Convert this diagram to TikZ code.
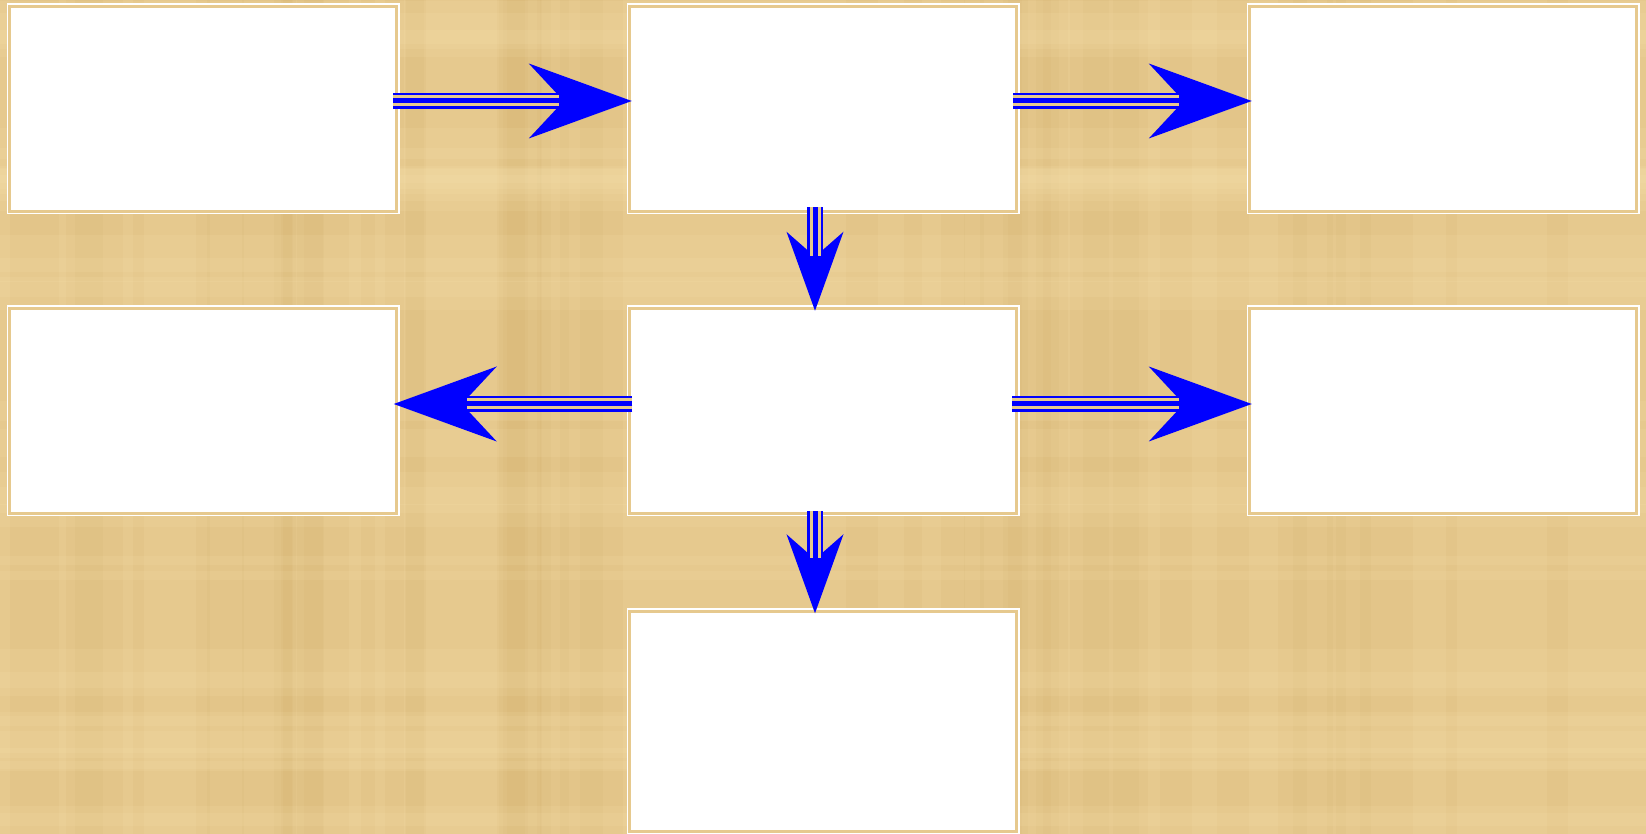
\documentclass[tikz,border=0pt]{standalone}
\usepackage{tikz}
\usetikzlibrary{arrows.meta, positioning, calc}
\definecolor{papyrus}{RGB}{230, 201, 142}
\definecolor{papyrusdark}{RGB}{196, 156, 84}
\definecolor{papyruslight}{RGB}{252, 232, 182}
\definecolor{flowblue}{RGB}{0, 0, 255}
\tikzset{
    panel/.style={rectangle, minimum width=193.5pt, minimum height=102.5pt, inner sep=0pt, draw=white, fill=white, line width=0.75pt, double=papyrus, double distance=1.5pt},
    bigflow/.style={flowblue, line width=8pt, -{Stealth[length=51.5pt, width=37.5pt, inset=17.5pt, line width=0pt]},
        postaction={draw=papyrus, line width=5.5pt, -, shorten >=36.5pt},
        postaction={draw=flowblue, line width=2.5pt, -, shorten >=34pt}},
    smallflow/.style={flowblue, line width=8pt, -{Stealth[length=39.5pt, width=28.5pt, inset=12.5pt, line width=0pt]},
        postaction={draw=papyrus, line width=5.5pt, -, shorten >=27.5pt},
        postaction={draw=flowblue, line width=2.5pt, -, shorten >=26pt}}
}

\begin{document}
\begin{tikzpicture}[x=0.5pt, y=-0.5pt]
        % Papyrus background
        \useasboundingbox (0,0) rectangle (1646,834);
        \fill[papyrus] (0,0) rectangle (1646,834);
        \pgfmathsetseed{11}
        \foreach \i in {1,...,45} {
            \pgfmathsetmacro\bx{rnd*1646}
            \pgfmathsetmacro\bw{8+rnd*50}
            \fill[papyrusdark, opacity=0.07] (\bx,0) rectangle ++(\bw,834);
        }
        \foreach \i in {1,...,30} {
            \pgfmathsetmacro\by{rnd*834}
            \pgfmathsetmacro\bh{8+rnd*40}
            \fill[papyruslight, opacity=0.12] (0,\by) rectangle ++(1646,\bh);
        }

        % Panels
        \node[panel] (p1) at (203, 109) {};
        \node[panel] (p2) at (823, 109) {};
        \node[panel] (p3) at (1443, 109) {};
        \node[panel] (p4) at (203, 411) {};
        \node[panel] (p5) at (823, 411) {};
        \node[panel] (p6) at (1443, 411) {};
        \node[panel, minimum height=110pt] (p7) at (823, 721) {};

        % Triple arrows between panels
        \draw[bigflow] ($(p1.east)+(-4,-8)$) -- ($(p2.west)+(3,-8)$);
        \draw[bigflow] ($(p2.east)+(-4,-8)$) -- ($(p3.west)+(3,-8)$);
        \draw[smallflow] ($(p2.south)+(-8,-5)$) -- ($(p5.north)+(-8,3)$);
        \draw[bigflow] ($(p5.west)+(3.5,-7)$) -- ($(p4.east)+(-3.5,-7)$);
        \draw[bigflow] ($(p5.east)+(-5,-7)$) -- ($(p6.west)+(3,-7)$);
        \draw[smallflow] ($(p5.south)+(-8,-3)$) -- ($(p7.north)+(-8,3)$);
    \end{tikzpicture}
\end{document}
